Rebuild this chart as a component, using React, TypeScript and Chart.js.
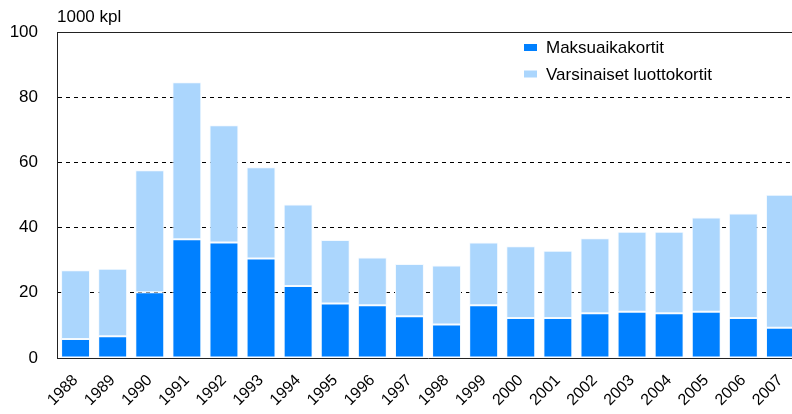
import React, { useEffect, useRef } from "react";
import { Chart, registerables } from "chart.js";

Chart.register(...registerables);

const years = ["1988","1989","1990","1991","1992","1993","1994","1995","1996","1997","1998","1999","2000","2001","2002","2003","2004","2005","2006","2007"];
const maksuaikakortit = [5.8, 6.7, 20.2, 36.4, 35.4, 30.5, 22.1, 16.7, 16.2, 12.8, 10.3, 16.2, 12.3, 12.3, 13.7, 14.2, 13.7, 14.2, 12.3, 9.3];
const luottokortit = [21.1, 20.7, 37.4, 48.2, 36.0, 28.0, 25.0, 19.5, 14.6, 16.0, 18.1, 19.2, 22.0, 20.6, 23.0, 24.5, 25.0, 28.9, 32.0, 40.8];
const seriesNames = ["Maksuaikakortit", "Varsinaiset luottokortit"];
const seriesColors = ["#0080FF", "#ABD6FD"];
const yTicks = [0, 20, 40, 60, 80, 100];
const unitLabel = "1000 kpl";

const FONT = "'Liberation Sans', Arial, sans-serif";

export default function App() {
  const ref = useRef<HTMLCanvasElement | null>(null);

  useEffect(() => {
    if (!ref.current) return;
    const overlay = {
      id: "overlay",
      afterDraw(chart: any) {
        const { ctx, chartArea } = chart;
        ctx.save();
        ctx.strokeStyle = "#222";
        ctx.lineWidth = 1;
        ctx.beginPath();
        ctx.moveTo(chartArea.left, Math.round(chartArea.top) + 0.5);
        ctx.lineTo(chartArea.right + 20, Math.round(chartArea.top) + 0.5);
        ctx.stroke();
        ctx.fillStyle = "#000";
        ctx.font = "17px " + FONT;
        ctx.textAlign = "left";
        ctx.textBaseline = "middle";
        ctx.fillText(unitLabel, chartArea.left, 17);
        const lx = 524;
        const ys = [47.5, 74];
        seriesNames.forEach((n, i) => {
          ctx.fillStyle = seriesColors[i];
          ctx.fillRect(lx, ys[i] - 3.5, 13, 7);
          ctx.fillStyle = "#000";
          ctx.font = "17px " + FONT;
          ctx.fillText(n, lx + 22, ys[i] + 1);
        });
        ctx.restore();
      },
    };

    const chart = new Chart(ref.current, {
      type: "bar",
      data: {
        labels: years,
        datasets: [
          {
            label: seriesNames[0],
            data: maksuaikakortit,
            backgroundColor: seriesColors[0],
            borderColor: "#F4FAFF",
            borderWidth: 1,
            borderSkipped: false,
            barPercentage: 0.78,
            categoryPercentage: 1,
          },
          {
            label: seriesNames[1],
            data: luottokortit,
            backgroundColor: seriesColors[1],
            borderColor: "#F4FAFF",
            borderWidth: 1,
            borderSkipped: false,
            barPercentage: 0.78,
            categoryPercentage: 1,
          },
        ],
      },
      options: {
        animation: false,
        responsive: false,
        layout: { padding: { top: 32, right: 11, left: 0, bottom: 0 } },
        plugins: { legend: { display: false }, tooltip: { enabled: false } },
        scales: {
          x: {
            stacked: true,
            grid: { display: false, drawTicks: false },
            border: { display: true, color: "#222", width: 1 },
            ticks: {
              color: "#000",
              font: { family: FONT, size: 16 },
              maxRotation: 45,
              minRotation: 45,
              padding: 13,
            },
            afterFit: (s: any) => {
              s.height = 56;
            },
          },
          y: {
            stacked: true,
            min: 0,
            max: 100,
            afterBuildTicks: (s: any) => {
              s.ticks = yTicks.map((v) => ({ value: v }));
            },
            grid: {
              drawTicks: false,
              color: (c: any) => (c.tick && (c.tick.value === 0 || c.tick.value === 100) ? "rgba(0,0,0,0)" : "#000"),
              lineWidth: 1,
            },
            border: { display: true, color: "#222", width: 1, dash: [4, 4] },
            ticks: {
              color: "#000",
              font: { family: FONT, size: 17 },
              padding: 19,
            },
            afterFit: (s: any) => {
              s.width = 57;
            },
          },
        },
      },
      plugins: [overlay],
    } as any);
    return () => chart.destroy();
  }, []);

  return (
    <div style={{ position: "fixed", left: 0, top: 0, width: 792, height: 414, overflow: "hidden", background: "#fff" }}>
      <canvas ref={ref} width={810} height={414} style={{ display: "block" }} />
    </div>
  );
}
